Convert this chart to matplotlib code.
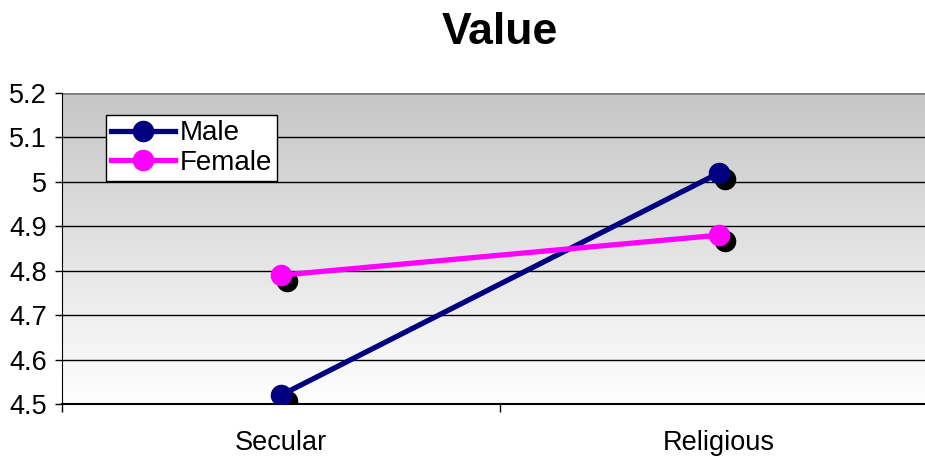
import numpy as np
import matplotlib
matplotlib.use("Agg")
import matplotlib.pyplot as plt
import matplotlib.transforms as mtransforms
from matplotlib.colors import LinearSegmentedColormap

plt.rcParams['font.family'] = ['Liberation Sans', 'DejaVu Sans']

title = "Value"
categories = ["Secular", "Religious"]
male = [4.52, 5.02]
female = [4.79, 4.88]
y_ticks = [4.5, 4.6, 4.7, 4.8, 4.9, 5.0, 5.1, 5.2]
y_labels = ["4.5", "4.6", "4.7", "4.8", "4.9", "5", "5.1", "5.2"]

fig = plt.figure(figsize=(9.25, 4.61), dpi=100)
ax = fig.add_axes([62/925, 57/461, 876/925, 311/461])

x = np.arange(len(categories))
ax.set_xlim(-0.5, 1.5)
ax.set_ylim(4.5, 5.2)

# gradient background
cmap = LinearSegmentedColormap.from_list("g", [(1, 1, 1), (0.776, 0.776, 0.776)])
grad = np.linspace(0, 1, 256).reshape(-1, 1)
ax.imshow(grad, extent=[-0.5, 1.5, 4.5, 5.2], origin='lower', aspect='auto',
          cmap=cmap, zorder=0)

for t in y_ticks[1:-1]:
    ax.axhline(t, color='black', lw=1, zorder=1)
ax.axhline(5.2, color='#808080', lw=2, zorder=1)

shadow = mtransforms.offset_copy(ax.transData, fig=fig, x=6, y=-6, units='dots')
ms = 14.5
lw = 3.8
ax.plot(x, male, 'o', color='black', ms=ms, transform=shadow, zorder=2)
ax.plot(x, female, 'o', color='black', ms=ms, transform=shadow, zorder=2)
ax.plot(x, male, '-o', color='#000080', lw=lw, ms=ms, label='Male', zorder=3)
ax.plot(x, female, '-o', color='#FF00FF', lw=lw, ms=ms, label='Female', zorder=3)

for s in ['top', 'right']:
    ax.spines[s].set_visible(False)
ax.spines['left'].set_color('black')
ax.spines['bottom'].set_color('black')
ax.spines['bottom'].set_linewidth(1.5)

ax.set_yticks(y_ticks)
ax.set_yticklabels(y_labels, fontsize=19.5)
ax.tick_params(axis='y', length=5, width=1, pad=6, colors='black')

ax.set_xticks([-0.5, 0.5, 1.5])
ax.set_xticklabels([])
ax.tick_params(axis='x', which='major', length=6, width=1)
ax.set_xticks(x, minor=True)
ax.set_xticklabels(categories, minor=True, fontsize=19.5)
ax.tick_params(axis='x', which='minor', length=0, pad=19)

ax.set_title(title, fontsize=32, fontweight='bold', pad=35)

leg = ax.legend(loc='upper left', bbox_to_anchor=(0.05, 0.93), fontsize=20,
                frameon=True, fancybox=False, edgecolor='black', framealpha=1,
                borderpad=0.2, labelspacing=0.12, handlelength=2.3,
                handletextpad=0.15, borderaxespad=0, markerscale=1.0)
leg.get_frame().set_linewidth(1)
leg.set_zorder(5)

fig.savefig("out.png", dpi=100)
